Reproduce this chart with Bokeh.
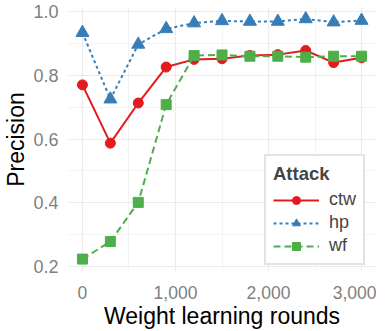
from bokeh.plotting import figure
from bokeh.models import Legend, LegendItem, FixedTicker, NumeralTickFormatter, Range1d
from bokeh.embed import file_html
from bokeh.resources import INLINE

rounds = [0, 300, 600, 900, 1200, 1500, 1800, 2100, 2400, 2700, 3000]
ctw = [0.770, 0.587, 0.713, 0.826, 0.850, 0.852, 0.862, 0.865, 0.878, 0.840, 0.855]
hp = [0.934, 0.725, 0.897, 0.946, 0.964, 0.971, 0.969, 0.969, 0.977, 0.967, 0.972]
wf = [0.223, 0.278, 0.401, 0.708, 0.862, 0.864, 0.860, 0.860, 0.857, 0.860, 0.860]
x_ticks = [0, 1000, 2000, 3000]
y_ticks = [0.2, 0.4, 0.6, 0.8, 1.0]

FONT = "Liberation Sans"
RED, BLUE, GREEN = "#E41A1C", "#377EB8", "#4DAF4A"

p = figure(width=370, height=315, output_backend="svg", toolbar_location=None,
           x_range=Range1d(-150, 3150), y_range=Range1d(0.184, 1.013),
           min_border_left=0, min_border_right=1, min_border_top=7, min_border_bottom=0)
p.frame_width = 307
p.frame_height = 264
p.outline_line_color = None
p.background_fill_color = "white"
p.border_fill_color = "white"

for ax in (p.xaxis[0], p.yaxis[0]):
    ax.axis_line_color = None
    ax.major_tick_line_color = None
    ax.minor_tick_line_color = None
    ax.major_tick_out = 0
    ax.minor_tick_out = 0
    ax.major_label_text_font = FONT
    ax.major_label_text_font_size = "18px"
    ax.major_label_text_color = "#7f7f7f"
    ax.axis_label_text_font = FONT
    ax.axis_label_text_font_size = "23px"
    ax.axis_label_text_font_style = "normal"
    ax.axis_label_text_color = "black"

p.xaxis.ticker = FixedTicker(ticks=x_ticks, minor_ticks=[500, 1500, 2500])
p.yaxis.ticker = FixedTicker(ticks=y_ticks, minor_ticks=[0.3, 0.5, 0.7, 0.9])
p.xaxis.formatter = NumeralTickFormatter(format="0,0")
p.yaxis.formatter = NumeralTickFormatter(format="0.0")
p.xaxis.major_label_text_font_size = "17.5px"
p.xaxis.axis_label = "Weight learning rounds"
p.yaxis.axis_label = "Precision"
p.xaxis.major_label_standoff = 14
p.yaxis.major_label_standoff = 10
p.xaxis.axis_label_standoff = 1
p.yaxis.axis_label_standoff = 1

p.xgrid.grid_line_color = "#ebebeb"
p.ygrid.grid_line_color = "#ebebeb"
p.xgrid.grid_line_width = 1.2
p.ygrid.grid_line_width = 1.2
p.xgrid.minor_grid_line_color = "#f3f3f3"
p.ygrid.minor_grid_line_color = "#f3f3f3"

l1 = p.line(rounds, ctw, line_color=RED, line_width=2)
m1 = p.scatter(rounds, ctw, marker="circle", size=10, fill_color=RED, line_color=RED)
l2 = p.line(rounds, hp, line_color=BLUE, line_width=2, line_dash="3 3")
m2 = p.scatter(rounds, hp, marker="triangle", size=13, fill_color=BLUE, line_color=BLUE)
l3 = p.line(rounds, wf, line_color=GREEN, line_width=2, line_dash="7 4")
m3 = p.scatter(rounds, wf, marker="square", size=10, fill_color=GREEN, line_color=GREEN)

legend = Legend(items=[LegendItem(label="ctw", renderers=[l1, m1]),
                       LegendItem(label="hp", renderers=[l2, m2]),
                       LegendItem(label="wf", renderers=[l3, m3])],
                location=(196, 6), title="Attack")
legend.title_text_font = FONT
legend.title_text_font_style = "bold"
legend.title_text_font_size = "18.5px"
legend.title_standoff = 4
legend.label_text_font = FONT
legend.label_text_font_size = "18px"
legend.label_height = 20
legend.border_line_color = "#c8c8c8"
legend.border_line_width = 2
legend.background_fill_color = "white"
legend.background_fill_alpha = 1
legend.glyph_width = 46
legend.glyph_height = 20
legend.label_standoff = 10
legend.spacing = 2
legend.padding = 7
legend.margin = 0
p.add_layout(legend, "center")

open("out.html", "w").write(file_html(p, INLINE))
